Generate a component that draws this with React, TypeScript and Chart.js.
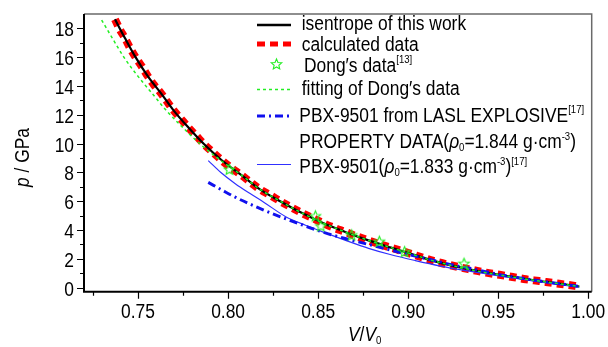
import React, { useEffect, useRef } from 'react';
import { Chart, registerables } from 'chart.js';

Chart.register(...registerables);

const FONT = "'Liberation Sans', Arial, sans-serif";
const SX = 0.87; // horizontal condensing of all text, as in the reference

// ---- data (V/V0, p in GPa) ----
const isentropeV = [0.7372, 0.7428, 0.7487, 0.7555, 0.7628, 0.7696, 0.7781, 0.7866, 0.7968, 0.8076, 0.8177, 0.8294, 0.8414, 0.8530, 0.8650, 0.8775, 0.8905, 0.9010, 0.9140, 0.9288, 0.9432, 0.9580, 0.9728, 0.9876, 0.9950];
const isentropeP = [18.63, 17.31, 15.99, 14.67, 13.49, 12.33, 11.10, 9.97, 8.81, 7.80, 6.83, 5.97, 5.16, 4.47, 3.87, 3.30, 2.78, 2.37, 1.86, 1.41, 1.04, 0.74, 0.46, 0.21, 0.08];

const calcV = [0.7372, 0.7398, 0.7428, 0.7457, 0.7487, 0.7522, 0.7555, 0.7589, 0.7628, 0.7663, 0.7696, 0.7739, 0.7781, 0.7826, 0.7866, 0.7918, 0.7968, 0.8020, 0.8076, 0.8127, 0.8177, 0.8236, 0.8294, 0.8355, 0.8414, 0.8470, 0.8530, 0.8590, 0.8650, 0.8710, 0.8775, 0.8840, 0.8905, 0.8960, 0.9010, 0.9075, 0.9140, 0.9213, 0.9288, 0.9358, 0.9432, 0.9506, 0.9580, 0.9654, 0.9728, 0.9802, 0.9876, 0.9950];
const calcP = [18.63, 17.95, 17.31, 16.61, 15.99, 15.34, 14.67, 14.07, 13.49, 12.89, 12.33, 11.71, 11.10, 10.50, 9.97, 9.37, 8.81, 8.29, 7.80, 7.29, 6.83, 6.41, 5.97, 5.55, 5.16, 4.83, 4.47, 4.15, 3.87, 3.58, 3.30, 3.02, 2.78, 2.56, 2.37, 2.11, 1.86, 1.62, 1.41, 1.23, 1.04, 0.90, 0.74, 0.58, 0.46, 0.33, 0.21, 0.08];

const dongV = [0.8007, 0.8485, 0.8515, 0.8686, 0.8840, 0.8980, 0.9310];
const dongP = [8.22, 4.98, 4.29, 3.66, 3.22, 2.50, 1.69];

const fitV = [0.7298, 0.7358, 0.7422, 0.7500, 0.7578, 0.7655, 0.7750, 0.7845, 0.7962, 0.8076, 0.8177, 0.8294, 0.8414, 0.8530, 0.8650, 0.8775, 0.8905, 0.9010, 0.9140, 0.9288, 0.9432, 0.9580, 0.9728, 0.9876, 0.9950];
const fitP = [18.58, 17.31, 15.99, 14.67, 13.49, 12.33, 11.10, 9.97, 8.81, 7.80, 6.83, 5.97, 5.16, 4.47, 3.87, 3.30, 2.78, 2.37, 1.86, 1.41, 1.04, 0.74, 0.46, 0.21, 0.08];

const laslV = [0.789, 0.797, 0.804, 0.814, 0.823, 0.832, 0.843, 0.854, 0.866, 0.878, 0.890, 0.900, 0.912, 0.925, 0.938, 0.950, 0.962, 0.974, 0.986, 0.995];
const laslP = [7.31, 6.75, 6.28, 5.70, 5.22, 4.78, 4.27, 3.80, 3.38, 3.00, 2.62, 2.30, 1.96, 1.57, 1.25, 0.93, 0.68, 0.45, 0.24, 0.09];

const pbxV = [0.789, 0.796, 0.804, 0.812, 0.820, 0.832, 0.843, 0.854, 0.866, 0.878, 0.890, 0.904, 0.918, 0.932, 0.946, 0.958, 0.970, 0.982, 0.995];
const pbxP = [8.82, 8.00, 7.22, 6.55, 5.92, 4.93, 4.33, 3.80, 3.25, 2.73, 2.30, 1.88, 1.50, 1.18, 0.90, 0.68, 0.46, 0.24, 0.03];

const xMajorTicks = [0.75, 0.8, 0.85, 0.9, 0.95, 1.0];
const xMinorTicks = [0.725, 0.775, 0.825, 0.875, 0.925, 0.975];
const yMajorTicks = [0, 2, 4, 6, 8, 10, 12, 14, 16, 18];
const yMinorTicks = [1, 3, 5, 7, 9, 11, 13, 15, 17];

const X_MIN = 0.72;
const X_MAX = 1.0019;
const Y_MIN = -0.28;
const Y_MAX = 19.0;

const toXY = (xs: number[], ys: number[]) => xs.map((x, i) => ({ x, y: ys[i] }));

function drawStarPath(g: CanvasRenderingContext2D, cx: number, cy: number, r: number) {
  g.beginPath();
  for (let i = 0; i < 10; i++) {
    const ang = -Math.PI / 2 + (i * Math.PI) / 5;
    const rr = i % 2 === 0 ? r : r * 0.45;
    const px = cx + rr * Math.cos(ang);
    const py = cy + rr * Math.sin(ang);
    if (i === 0) g.moveTo(px, py);
    else g.lineTo(px, py);
  }
  g.closePath();
}

function makeStar(r: number, color: string) {
  const size = Math.ceil(r * 2 + 4);
  const c = document.createElement('canvas');
  c.width = size;
  c.height = size;
  const g = c.getContext('2d')!;
  drawStarPath(g, size / 2, size / 2 + 0.5, r);
  g.strokeStyle = color;
  g.lineWidth = 1.1;
  g.stroke();
  return c;
}

type Part = { t: string; it?: boolean; sup?: boolean; sub?: boolean };

function partFont(p: Part, size: number) {
  const s = p.sup || p.sub ? 11 : size;
  return `${p.it ? 'italic ' : ''}${s}px ${FONT}`;
}

function richWidth(ctx: CanvasRenderingContext2D, parts: Part[], size: number) {
  let w = 0;
  for (const p of parts) {
    ctx.font = partFont(p, size);
    w += ctx.measureText(p.t).width;
  }
  return w * SX;
}

function drawRich(ctx: CanvasRenderingContext2D, x: number, y: number, parts: Part[], size: number, align: 'left' | 'center' | 'right' = 'left') {
  const w = richWidth(ctx, parts, size);
  const x0 = align === 'left' ? x : align === 'center' ? x - w / 2 : x - w;
  ctx.save();
  ctx.translate(x0, y);
  ctx.scale(SX, 1);
  ctx.textBaseline = 'alphabetic';
  ctx.textAlign = 'left';
  let cx = 0;
  for (const p of parts) {
    ctx.font = partFont(p, size);
    const dy = p.sup ? -8.5 : p.sub ? 3 : 0;
    ctx.fillText(p.t, cx, dy);
    cx += ctx.measureText(p.t).width;
  }
  ctx.restore();
}

const GREEN = '#22ee22';
const BLUE_DD = '#1010ee';
const BLUE_THIN = '#3030ff';

const framePlugin = {
  id: 'frameTicks',
  afterDraw(chart: any) {
    const { ctx, chartArea: a, scales } = chart;
    const xs = scales.x;
    const ys = scales.y;
    ctx.save();
    ctx.strokeStyle = '#6a6a6a';
    ctx.lineWidth = 1.5;
    ctx.beginPath();
    ctx.moveTo(a.left, a.top);
    ctx.lineTo(a.right, a.top);
    ctx.lineTo(a.right, a.bottom);
    ctx.stroke();
    ctx.strokeStyle = '#000';
    ctx.lineWidth = 2;
    ctx.beginPath();
    ctx.moveTo(a.left, a.top);
    ctx.lineTo(a.left, a.bottom);
    ctx.lineTo(a.right, a.bottom);
    ctx.stroke();
    ctx.lineWidth = 1.2;
    ctx.beginPath();
    for (const v of xMajorTicks) {
      const px = Math.round(xs.getPixelForValue(v)) + 0.5;
      ctx.moveTo(px, a.bottom);
      ctx.lineTo(px, a.bottom + 7);
    }
    for (const v of xMinorTicks) {
      const px = Math.round(xs.getPixelForValue(v)) + 0.5;
      ctx.moveTo(px, a.bottom);
      ctx.lineTo(px, a.bottom + 4);
    }
    for (const v of yMajorTicks) {
      const py = Math.round(ys.getPixelForValue(v)) + 0.5;
      ctx.moveTo(a.left, py);
      ctx.lineTo(a.left - 7, py);
    }
    for (const v of yMinorTicks) {
      const py = Math.round(ys.getPixelForValue(v)) + 0.5;
      ctx.moveTo(a.left, py);
      ctx.lineTo(a.left - 4, py);
    }
    ctx.stroke();

    ctx.fillStyle = '#000';
    // tick labels, placed by the scales
    for (const v of xMajorTicks) {
      drawRich(ctx, xs.getPixelForValue(v), a.bottom + 26.5, [{ t: v.toFixed(2) }], 20, 'center');
    }
    for (const v of yMajorTicks) {
      drawRich(ctx, a.left - 10, ys.getPixelForValue(v) + 8, [{ t: String(v) }], 20, 'right');
    }

    // axis titles
    drawRich(ctx, 348, 341, [{ t: 'V', it: true }, { t: '/' }, { t: 'V', it: true }, { t: '0', sub: true }], 20);
    ctx.save();
    ctx.translate(29, 187);
    ctx.rotate(-Math.PI / 2);
    drawRich(ctx, 0, 0, [{ t: 'p', it: true }, { t: ' / GPa' }], 20);
    ctx.restore();

    // legend
    const lx0 = 257;
    const lx1 = 291;
    const fs = 20;
    const line = (y: number, color: string, w: number, dash: number[]) => {
      ctx.save();
      ctx.strokeStyle = color;
      ctx.lineWidth = w;
      ctx.setLineDash(dash);
      ctx.beginPath();
      ctx.moveTo(lx0, y);
      ctx.lineTo(lx1, y);
      ctx.stroke();
      ctx.restore();
    };
    line(25, '#000', 2.5, []);
    drawRich(ctx, 301.7, 29.5, [{ t: 'isentrope of this work' }], fs);
    line(44, '#ff0000', 5, [8, 5]);
    drawRich(ctx, 301.7, 50.7, [{ t: 'calculated data' }], fs);
    ctx.save();
    ctx.strokeStyle = GREEN;
    ctx.lineWidth = 1.1;
    drawStarPath(ctx, 276.5, 64.5, 5.5);
    ctx.stroke();
    ctx.restore();
    drawRich(ctx, 304, 71.7, [{ t: 'Dong\u2032s data' }, { t: '[13]', sup: true }], fs);
    line(89.5, GREEN, 1.5, [3, 3]);
    drawRich(ctx, 301.7, 95, [{ t: 'fitting of Dong\u2032s data' }], fs);
    line(116, BLUE_DD, 3, [8, 4, 2, 4]);
    drawRich(ctx, 299.3, 121.7, [{ t: 'PBX-9501 from LASL EXPLOSIVE' }, { t: '[17]', sup: true }], fs);
    drawRich(ctx, 299.3, 148.3, [
      { t: 'PROPERTY DATA(' }, { t: '\u03c1', it: true }, { t: '0', sub: true },
      { t: '=1.844 g\u00b7cm' }, { t: '-3', sup: true }, { t: ')' },
    ], fs);
    line(164.5, BLUE_THIN, 1.2, []);
    drawRich(ctx, 299.3, 173.3, [
      { t: 'PBX-9501(' }, { t: '\u03c1', it: true }, { t: '0', sub: true },
      { t: '=1.833 g\u00b7cm' }, { t: '-3', sup: true }, { t: ')' }, { t: '[17]', sup: true },
    ], fs);
    ctx.restore();
  },
};

export default function App() {
  const ref = useRef<HTMLCanvasElement>(null);
  useEffect(() => {
    if (!ref.current) return;
    const star = makeStar(5.5, GREEN);
    const chart = new Chart(ref.current, {
      type: 'line',
      data: {
        datasets: [
          {
            label: "Dong's data",
            data: toXY(dongV, dongP),
            showLine: false,
            pointStyle: star as any,
            pointRadius: 6,
            order: 0,
          },
          {
            label: "fitting of Dong's data",
            data: toXY(fitV, fitP),
            borderColor: GREEN,
            borderWidth: 1.5,
            borderDash: [3, 3],
            pointRadius: 0,
            cubicInterpolationMode: 'monotone',
            order: 1,
          },
          {
            label: 'PBX-9501 LASL',
            data: toXY(laslV, laslP),
            borderColor: BLUE_DD,
            borderWidth: 3,
            borderDash: [8, 4, 2, 4],
            pointRadius: 0,
            cubicInterpolationMode: 'monotone',
            order: 2,
          },
          {
            label: 'PBX-9501',
            data: toXY(pbxV, pbxP),
            borderColor: BLUE_THIN,
            borderWidth: 1.2,
            pointRadius: 0,
            cubicInterpolationMode: 'monotone',
            order: 3,
          },
          {
            label: 'isentrope of this work',
            data: toXY(isentropeV, isentropeP),
            borderColor: '#000',
            borderWidth: 2.2,
            pointRadius: 0,
            cubicInterpolationMode: 'monotone',
            order: 4,
          },
          {
            label: 'calculated data',
            data: toXY(calcV, calcP),
            borderColor: '#ff0000',
            borderWidth: 8,
            borderDash: [7, 5],
            pointRadius: 0,
            cubicInterpolationMode: 'monotone',
            order: 5,
          },
        ],
      },
      options: {
        animation: false,
        responsive: false,
        devicePixelRatio: 1,
        layout: { padding: { left: 0, right: 16.3, top: 14, bottom: 0 } },
        plugins: { legend: { display: false }, tooltip: { enabled: false } },
        scales: {
          x: {
            type: 'linear',
            min: X_MIN,
            max: X_MAX,
            grid: { display: false, drawTicks: false },
            border: { display: false },
            ticks: { display: false },
            afterBuildTicks: (s: any) => {
              s.ticks = xMajorTicks.map((v) => ({ value: v }));
            },
            afterFit: (s: any) => {
              s.height = 55.3;
            },
          },
          y: {
            type: 'linear',
            min: Y_MIN,
            max: Y_MAX,
            grid: { display: false, drawTicks: false },
            border: { display: false },
            ticks: { display: false },
            afterBuildTicks: (s: any) => {
              s.ticks = yMajorTicks.map((v) => ({ value: v }));
            },
            afterFit: (s: any) => {
              s.width = 84;
            },
          },
        },
      },
      plugins: [framePlugin],
    });
    return () => chart.destroy();
  }, []);
  return (
    <div style={{ position: 'absolute', left: 0, top: 0, width: 608, height: 347, background: '#fff' }}>
      <canvas ref={ref} width={608} height={347} />
    </div>
  );
}
